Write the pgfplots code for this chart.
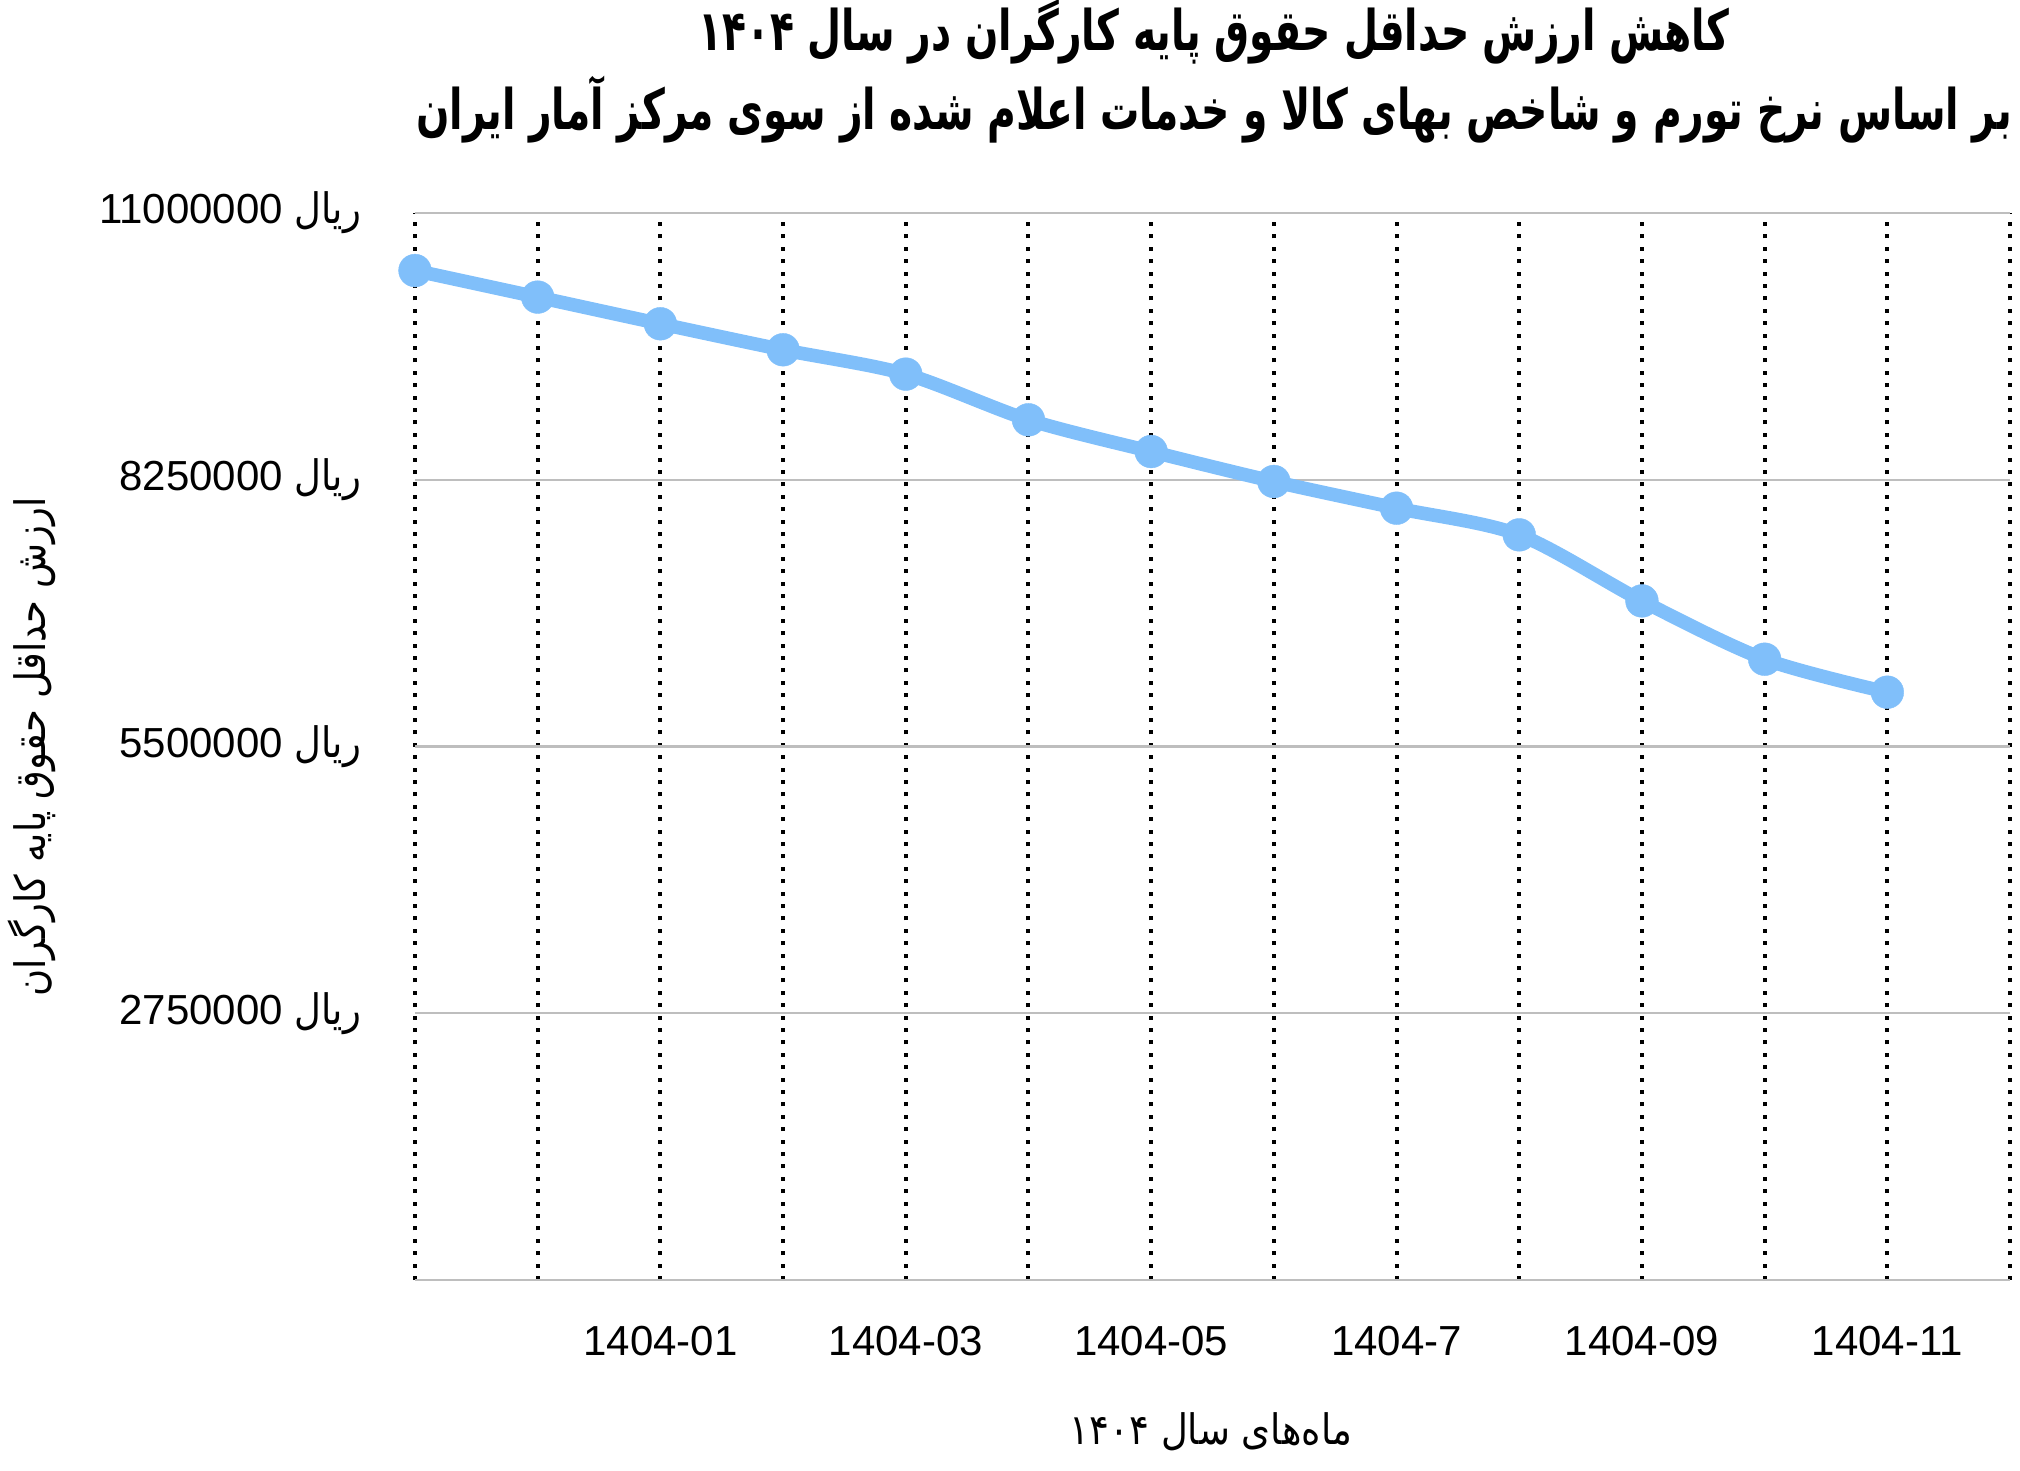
\documentclass[border=0pt]{standalone}
\usepackage{fontspec}
\setmainfont{Liberation Sans}
\newfontfamily\fafont[Script=Arabic,FakeStretch=0.88]{DejaVu Sans}
\newfontfamily\fatitle[Script=Arabic,FakeStretch=0.7]{DejaVu Sans}
\TeXXeTstate=1
\usepackage{pgfplots}
\usepackage{pgfplotstable}
\pgfplotsset{compat=1.18}
\definecolor{wageblue}{RGB}{128,191,250}
\definecolor{gridgray}{RGB}{190,190,190}

% minimum wage value per month (rial)
\pgfplotstableread{
idx value
0  10407000
1  10133000
2  9858000
3  9590000
4  9339000
5  8868000
6  8541000
7  8232000
8  7957000
9  7682000
10 7001000
11 6400000
12 6060000
}\wagetable

\newcommand{\rial}{{\fafont\beginR ریال\endR}}

\begin{document}
\begin{tikzpicture}[x=1pt,y=1pt]
\path[use as bounding box] (0,0) rectangle (505,367.5);
\begin{axis}[
  at={(103.75pt,47.5pt)}, anchor=south west,
  scale only axis, width=398.75pt, height=266.75pt,
  xmin=0, xmax=13, ymin=0, ymax=11000000,
  axis line style={draw=none},
  xtick={0,...,13},
  xticklabels={,,1404-01,,1404-03,,1404-05,,1404-7,,1404-09,,1404-11,},
  ytick={0,2750000,5500000,8250000,11000000},
  yticklabels={,2750000 \rial,5500000 \rial,8250000 \rial,11000000 \rial},
  scaled y ticks=false,
  major tick length=0pt,
  xmajorgrids, ymajorgrids,
  x grid style={black, line width=1pt, dash pattern=on 1pt off 2.1pt},
  y grid style={gridgray, line width=0.6pt},
  tick label style={font=\fontsize{10.5}{12}\selectfont},
  xticklabel style={yshift=-8pt},
  yticklabel style={xshift=-10pt},
  clip=false,
]
\addplot[wageblue, line width=3.4pt, smooth, tension=0.5, mark=*, mark size=4.1pt,
  mark options={draw=wageblue, fill=wageblue, line width=0.1pt}]
  table[x=idx,y=value] {\wagetable};
\end{axis}
\node[font=\fatitle\bfseries\fontsize{14}{16}\selectfont] at (303.5,359.5)
  {\beginR کاهش ارزش حداقل حقوق پایه کارگران در سال \beginL ۱۴۰۴\endL\endR};
\node[font=\fatitle\bfseries\fontsize{14}{16}\selectfont] at (303.5,340)
  {\beginR بر اساس نرخ تورم و شاخص بهای کالا و خدمات اعلام شده از سوی مرکز آمار ایران\endR};
\node[rotate=90, font=\fafont\fontsize{10.5}{12}\selectfont] at (8,180.75)
  {\beginR ارزش حداقل حقوق پایه کارگران\endR};
\node[font=\fafont\fontsize{10.5}{12}\selectfont] at (302.75,9.5)
  {\beginR ماه‌های سال \beginL ۱۴۰۴\endL\endR};
\end{tikzpicture}
\end{document}
